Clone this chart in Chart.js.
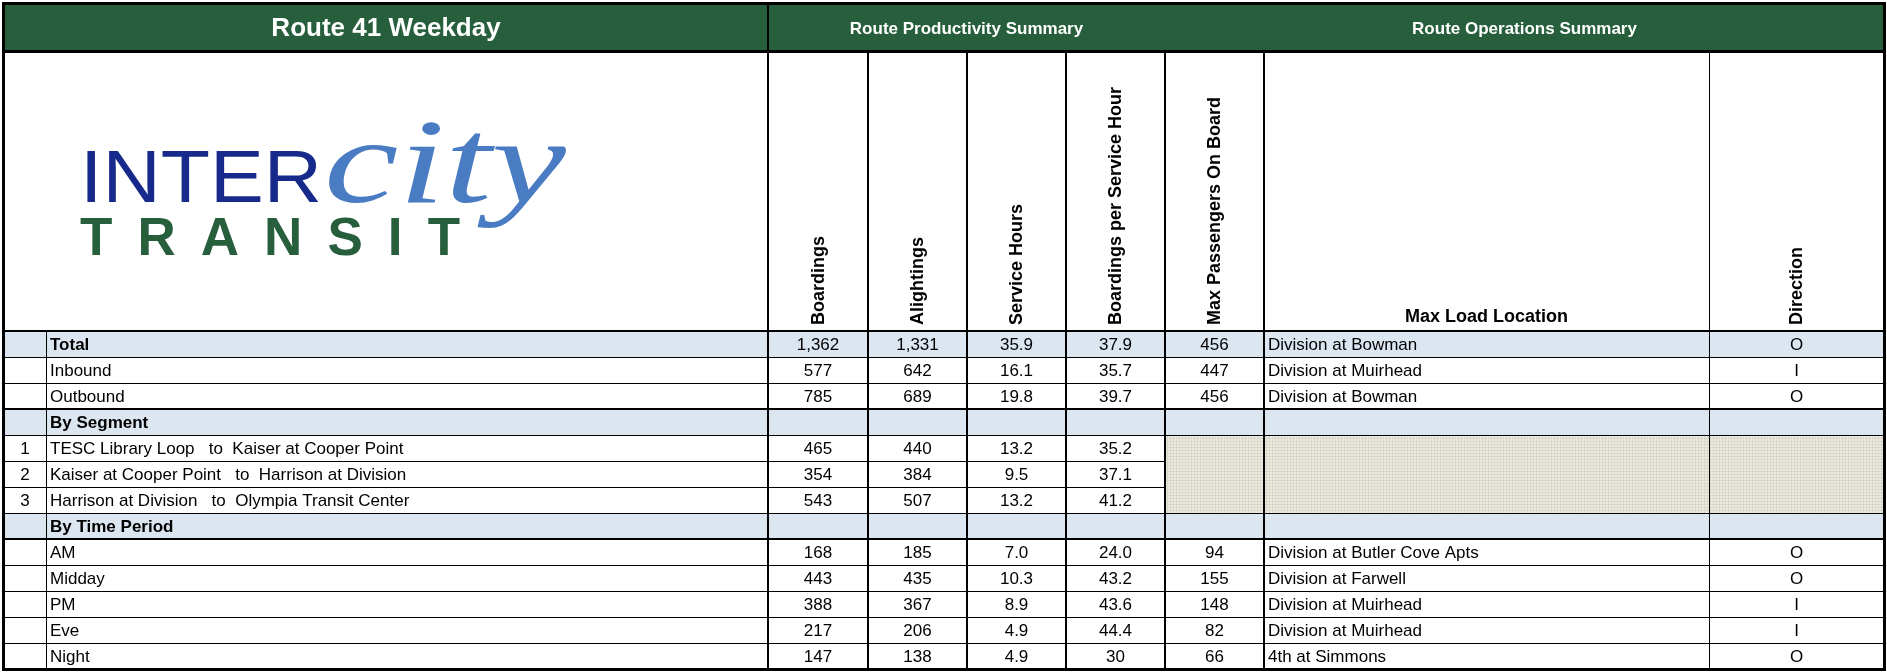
<!DOCTYPE html>
<html>
<head>
<meta charset="utf-8">
<script src="https://cdn.jsdelivr.net/npm/chart.js@4.4.1/dist/chart.umd.min.js"></script>
<style>
  html, body { margin: 0; padding: 0; background: #fff; }
  canvas { display: block; }
</style>
</head>
<body>
<canvas id="summary" width="1887" height="672"></canvas>
<script>
// --- table content ---
const title = 'Route 41 Weekday';
const groupHeaders = ['Route Productivity Summary', 'Route Operations Summary'];
const columnHeaders = ['Boardings', 'Alightings', 'Service Hours', 'Boardings per Service Hour',
  'Max Passengers On Board', 'Max Load Location', 'Direction'];

const rowLabels = ['Total', 'Inbound', 'Outbound', 'By Segment',
  'TESC Library Loop   to  Kaiser at Cooper Point',
  'Kaiser at Cooper Point   to  Harrison at Division',
  'Harrison at Division   to  Olympia Transit Center',
  'By Time Period', 'AM', 'Midday', 'PM', 'Eve', 'Night'];
const segmentNumbers = ['', '', '', '', '1', '2', '3', '', '', '', '', '', ''];
const sectionRows = [0, 3, 7];
const hatchedRows = [4, 5, 6];

const boardings = [1362, 577, 785, null, 465, 354, 543, null, 168, 443, 388, 217, 147];
const alightings = [1331, 642, 689, null, 440, 384, 507, null, 185, 435, 367, 206, 138];
const serviceHours = [35.9, 16.1, 19.8, null, 13.2, 9.5, 13.2, null, 7.0, 10.3, 8.9, 4.9, 4.9];
const boardingsPerHour = ['37.9', '35.7', '39.7', null, '35.2', '37.1', '41.2', null, '24.0', '43.2', '43.6', '44.4', '30'];
const maxOnBoard = [456, 447, 456, null, null, null, null, null, 94, 155, 148, 82, 66];
const maxLoadLocation = ['Division at Bowman', 'Division at Muirhead', 'Division at Bowman', null, null, null, null, null,
  'Division at Butler Cove Apts', 'Division at Farwell', 'Division at Muirhead', 'Division at Muirhead', '4th at Simmons'];
const direction = ['O', 'I', 'O', null, null, null, null, null, 'O', 'O', 'I', 'I', 'O'];

// --- layout (table units) ---
const colWidths = [42, 722, 100, 99, 99, 99, 99, 445, 175];
const headerHeight = 47;
const columnHeadHeight = 280;
const rowHeight = 26;

const colEdges = colWidths.reduce((acc, w) => { acc.push(acc[acc.length - 1] + w); return acc; }, [0]);
const tableWidth = colEdges[colEdges.length - 1];
const bodyTop = headerHeight + columnHeadHeight;
const tableHeight = bodyTop + rowLabels.length * rowHeight;

const SANS = '"Liberation Sans", Arial, sans-serif';
const GREEN = '#275e3c';
const SHADE = '#dce6f1';

function fmt(v, kind) {
    if (v === null || v === undefined) return '';
    if (kind === 'int') return v.toLocaleString('en-US');
    if (kind === 'hours') return v.toFixed(1);
    return String(v);
}

function hatchPattern(ctx) {
    const tile = document.createElement('canvas');
    tile.width = 3;
    tile.height = 3;
    const t = tile.getContext('2d');
    t.fillStyle = '#edece3';
    t.fillRect(0, 0, 3, 3);
    t.fillStyle = '#d8d7ca';
    t.fillRect(0, 0, 3, 1);
    t.fillRect(0, 0, 1, 3);
    return ctx.createPattern(tile, 'repeat');
}

function drawLogo(ctx, X, Y) {
    const baseline = Y(198);
    ctx.save();
    ctx.textAlign = 'left';
    ctx.textBaseline = 'alphabetic';

    // INTER
    ctx.save();
    ctx.font = '74px ' + SANS;
    ctx.fillStyle = '#17298a';
    const interW = ctx.measureText('INTER').width;
    const interLeft = X(76), interRight = X(318);
    ctx.translate(interLeft, baseline);
    ctx.scale((interRight - interLeft) / interW, 1);
    ctx.fillText('INTER', 0, 0);
    ctx.restore();

    // city
    ctx.save();
    ctx.font = 'italic 112px "Liberation Serif", "DejaVu Serif", serif';
    ctx.fillStyle = '#4a7cc3';
    const cityW = ctx.measureText('city').width;
    const cityLeft = X(320), cityRight = X(562);
    ctx.translate(cityLeft, baseline);
    ctx.scale((cityRight - cityLeft) / cityW, 1.08);
    ctx.fillText('city', 0, 0);
    ctx.restore();

    // TRANSIT
    ctx.font = 'bold 53px ' + SANS;
    ctx.fillStyle = GREEN;
    const letters = 'TRANSIT'.split('');
    const widths = letters.map(l => ctx.measureText(l).width);
    const left = X(76), right = X(456);
    const gap = (right - left - widths.reduce((a, b) => a + b, 0)) / (letters.length - 1);
    let x = left;
    letters.forEach((l, i) => {
        ctx.fillText(l, x, Y(251));
        x += widths[i] + gap;
    });
    ctx.restore();
}

const tablePlugin = {
    id: 'routeTable',
    afterDraw(chart) {
        const ctx = chart.ctx;
        const xs = chart.scales.x, ys = chart.scales.y;
        const X = v => Math.round(xs.getPixelForValue(v));
        const Y = v => Math.round(ys.getPixelForValue(v));
        const rowTop = i => bodyTop + i * rowHeight;

        ctx.save();
        // header band
        ctx.fillStyle = GREEN;
        ctx.fillRect(X(0), Y(0), X(tableWidth) - X(0), Y(headerHeight) - Y(0));

        ctx.fillStyle = '#fff';
        ctx.textBaseline = 'middle';
        ctx.textAlign = 'center';
        ctx.font = 'bold 26px ' + SANS;
        ctx.fillText(title, (X(colEdges[0]) + X(colEdges[2])) / 2, Y(headerHeight / 2) + 1);
        ctx.font = 'bold 17px ' + SANS;
        ctx.fillText(groupHeaders[0], (X(colEdges[2]) + X(colEdges[6])) / 2, Y(headerHeight / 2) + 1);
        ctx.fillText(groupHeaders[1], (X(colEdges[6]) + X(colEdges[9])) / 2, Y(headerHeight / 2) + 1);

        // logo
        drawLogo(ctx, X, Y);

        // column headers
        ctx.fillStyle = '#000';
        ctx.font = 'bold 18px ' + SANS;
        columnHeaders.forEach((h, k) => {
            const c = k + 2;
            const cx = (X(colEdges[c]) + X(colEdges[c + 1])) / 2;
            if (h === 'Max Load Location') {
                ctx.textAlign = 'center';
                ctx.textBaseline = 'middle';
                ctx.fillText(h, cx, Y(bodyTop) - 14);
            } else {
                ctx.save();
                ctx.translate(cx + 1, Y(bodyTop) - 6);
                ctx.rotate(-Math.PI / 2);
                ctx.textAlign = 'left';
                ctx.textBaseline = 'middle';
                ctx.fillText(h, 0, 0);
                ctx.restore();
            }
        });

        // row shading
        rowLabels.forEach((_, i) => {
            if (sectionRows.includes(i)) {
                ctx.fillStyle = SHADE;
                ctx.fillRect(X(0), Y(rowTop(i)), X(tableWidth) - X(0), Y(rowTop(i + 1)) - Y(rowTop(i)));
            }
        });
        ctx.fillStyle = hatchPattern(ctx);
        const hTop = rowTop(hatchedRows[0]), hBot = rowTop(hatchedRows[hatchedRows.length - 1] + 1);
        ctx.fillRect(X(colEdges[6]), Y(hTop), X(tableWidth) - X(colEdges[6]), Y(hBot) - Y(hTop));

        // cell text
        const columns = [
            { values: boardings, kind: 'int' },
            { values: alightings, kind: 'int' },
            { values: serviceHours, kind: 'hours' },
            { values: boardingsPerHour, kind: 'text' },
            { values: maxOnBoard, kind: 'int' },
            { values: maxLoadLocation, kind: 'left' },
            { values: direction, kind: 'text' },
        ];
        ctx.fillStyle = '#000';
        ctx.textBaseline = 'middle';
        rowLabels.forEach((label, i) => {
            const cy = (Y(rowTop(i)) + Y(rowTop(i + 1))) / 2 + 1;
            ctx.font = '17px ' + SANS;
            ctx.textAlign = 'center';
            if (segmentNumbers[i]) ctx.fillText(segmentNumbers[i], (X(colEdges[0]) + X(colEdges[1])) / 2, cy);
            ctx.textAlign = 'left';
            ctx.font = (sectionRows.includes(i) ? 'bold ' : '') + '17px ' + SANS;
            ctx.fillText(label, X(colEdges[1]) + 4, cy);
            ctx.font = '17px ' + SANS;
            columns.forEach((col, k) => {
                const c = k + 2;
                const txt = fmt(col.values[i], col.kind);
                if (!txt) return;
                if (col.kind === 'left') {
                    ctx.textAlign = 'left';
                    ctx.fillText(txt, X(colEdges[c]) + 4, cy);
                } else {
                    ctx.textAlign = 'center';
                    ctx.fillText(txt, (X(colEdges[c]) + X(colEdges[c + 1])) / 2, cy);
                }
            });
        });

        // grid lines
        ctx.fillStyle = '#000';
        const hLine = (y, x0, x1, w) => ctx.fillRect(x0, y - Math.floor(w / 2), x1 - x0, w);
        const vLine = (x, y0, y1, w) => ctx.fillRect(x - Math.floor(w / 2), y0, w, y1 - y0);
        const L = X(0), R = X(tableWidth), T = Y(0), B = Y(tableHeight);

        for (let i = 1; i < rowLabels.length; i++) {
            const y = Y(rowTop(i));
            const thick = i === 3 || i === 8;
            const inHatch = hatchedRows.includes(i) && hatchedRows.includes(i - 1);
            hLine(y, L, inHatch ? X(colEdges[6]) : R, thick ? 2 : 1);
        }
        hLine(Y(bodyTop), L, R, 2);
        hLine(Y(headerHeight), L, R, 3);

        vLine(X(colEdges[1]), Y(bodyTop), B, 1);
        vLine(X(colEdges[2]), T, B, 2);
        for (let c = 3; c <= 7; c++) vLine(X(colEdges[c]), Y(headerHeight), B, 2);
        vLine(X(colEdges[8]), Y(headerHeight), B, 1);

        // outer frame
        ctx.strokeStyle = '#000';
        ctx.lineWidth = 3;
        ctx.strokeRect(L - 0.5, T - 0.5, R - L + 1, B - T + 1);
        ctx.restore();
    }
};

new Chart(document.getElementById('summary'), {
    type: 'scatter',
    data: { datasets: [] },
    options: {
        responsive: false,
        animation: false,
        devicePixelRatio: 1,
        layout: { padding: { left: 4, right: 3, top: 4, bottom: 3 } },
        plugins: { legend: { display: false }, tooltip: { enabled: false } },
        scales: {
            x: { type: 'linear', display: false, min: 0, max: tableWidth },
            y: { type: 'linear', display: false, reverse: true, min: 0, max: tableHeight },
        },
    },
    plugins: [tablePlugin],
});
</script>
</body>
</html>
